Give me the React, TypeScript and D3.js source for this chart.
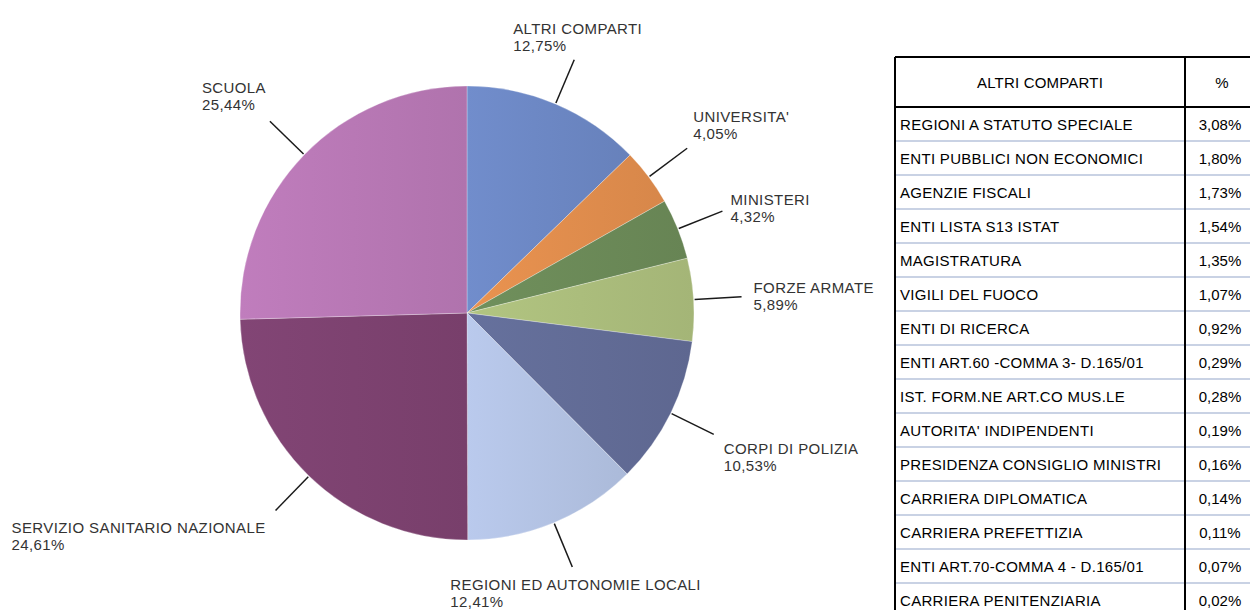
import React, { useEffect, useRef } from 'react';
import * as d3 from 'd3';

const sliceNames = [
  'ALTRI COMPARTI',
  "UNIVERSITA'",
  'MINISTERI',
  'FORZE ARMATE',
  'CORPI DI POLIZIA',
  'REGIONI ED AUTONOMIE LOCALI',
  'SERVIZIO SANITARIO NAZIONALE',
  'SCUOLA',
];
const sliceValues = [12.75, 4.05, 4.32, 5.89, 10.53, 12.41, 24.61, 25.44];
const sliceColors = ['#6c87c3', '#e08d4d', '#6b8a58', '#abbd7c', '#626c96', '#b2c2e3', '#7d4270', '#b878b5'];
// label placement relative to the outer end of each leader line: [dx, dy of first line]
const labelOffsets: [number, number][] = [
  [-61, -26], [6, -26], [8, -6], [12, -4], [10, 20], [-122, 23], [-264, 23], [-68, -28],
];

const tableTitle = 'ALTRI COMPARTI';
const tableNames = [
  'REGIONI A STATUTO SPECIALE',
  'ENTI PUBBLICI NON ECONOMICI',
  'AGENZIE FISCALI',
  'ENTI LISTA S13 ISTAT',
  'MAGISTRATURA',
  'VIGILI DEL FUOCO',
  'ENTI DI RICERCA',
  'ENTI ART.60 -COMMA 3- D.165/01',
  'IST. FORM.NE ART.CO MUS.LE',
  "AUTORITA' INDIPENDENTI",
  'PRESIDENZA CONSIGLIO MINISTRI',
  'CARRIERA DIPLOMATICA',
  'CARRIERA PREFETTIZIA',
  'ENTI ART.70-COMMA 4 - D.165/01',
  'CARRIERA PENITENZIARIA',
];
const tableValues = [3.08, 1.8, 1.73, 1.54, 1.35, 1.07, 0.92, 0.29, 0.28, 0.19, 0.16, 0.14, 0.11, 0.07, 0.02];

const pct = (v: number) => d3.format('.2f')(v).replace('.', ',') + '%';

export default function App() {
  const ref = useRef<SVGSVGElement>(null);

  useEffect(() => {
    if (!ref.current) return;
    document.body.style.margin = '0';
    const svg = d3.select(ref.current);
    svg.selectAll('*').remove();

    const width = 1250;
    const height = 610;
    svg.attr('width', width).attr('height', height);
    svg.append('rect').attr('width', width).attr('height', height).attr('fill', '#fff');

    // ---------- pie ----------
    const cx = 467;
    const cy = 313;
    const r = 227;
    const data = sliceNames.map((name, i) => ({ name, value: sliceValues[i], color: sliceColors[i], off: labelOffsets[i] }));
    const pie = d3.pie<typeof data[0]>().sort(null).value((d) => d.value);
    const arcs = pie(data);
    const arc = d3.arc<d3.PieArcDatum<typeof data[0]>>().innerRadius(0).outerRadius(r);
    const arcIn = d3.arc<d3.PieArcDatum<typeof data[0]>>().innerRadius(r + 1).outerRadius(r + 1);
    const arcOut = d3.arc<d3.PieArcDatum<typeof data[0]>>().innerRadius(275).outerRadius(275);

    const defs = svg.append('defs');
    data.forEach((d, i) => {
      const gr = defs.append('linearGradient').attr('id', `g${i}`).attr('x1', 0).attr('x2', 1).attr('y1', 0).attr('y2', 0);
      gr.append('stop').attr('offset', '0%').attr('stop-color', d3.color(d.color)!.brighter(0.12).formatHex());
      gr.append('stop').attr('offset', '100%').attr('stop-color', d3.color(d.color)!.darker(0.12).formatHex());
    });

    const g = svg.append('g').attr('transform', `translate(${cx},${cy})`);
    g.selectAll('path.slice')
      .data(arcs)
      .join('path')
      .attr('class', 'slice')
      .attr('d', arc)
      .attr('fill', (_, i) => `url(#g${i})`)
      .attr('stroke', '#ffffff')
      .attr('stroke-opacity', 0.35)
      .attr('stroke-width', 0.8);

    // leader lines
    g.selectAll('line.leader')
      .data(arcs)
      .join('line')
      .attr('class', 'leader')
      .attr('x1', (d) => arcIn.centroid(d)[0])
      .attr('y1', (d) => arcIn.centroid(d)[1])
      .attr('x2', (d) => arcOut.centroid(d)[0])
      .attr('y2', (d) => arcOut.centroid(d)[1])
      .attr('stroke', '#1a1a1a')
      .attr('stroke-width', 1.5);

    // labels
    const lab = g.selectAll('text.lab')
      .data(arcs)
      .join('text')
      .attr('class', 'lab')
      .attr('font-family', 'Liberation Sans, Arial, sans-serif')
      .attr('font-size', 15)
      .attr('letter-spacing', 0.4)
      .attr('fill', '#333');
    lab.append('tspan')
      .attr('x', (d) => arcOut.centroid(d)[0] + d.data.off[0])
      .attr('y', (d) => arcOut.centroid(d)[1] + d.data.off[1])
      .text((d) => d.data.name);
    lab.append('tspan')
      .attr('x', (d) => arcOut.centroid(d)[0] + d.data.off[0])
      .attr('y', (d) => arcOut.centroid(d)[1] + d.data.off[1] + 17)
      .text((d) => pct(d.data.value));

    // ---------- table ----------
    const left = 895;
    const divider = 1185;
    const right = 1262;
    const top = 57;
    const headBottom = 107;
    const y = d3.scaleBand().domain(tableNames).range([headBottom, headBottom + 34 * tableNames.length]);
    const t = svg.append('g').attr('font-family', 'Liberation Sans, Arial, sans-serif').attr('font-size', 15).attr('fill', '#000');

    // row separators
    t.selectAll('line.sep')
      .data(tableNames.slice(1))
      .join('line')
      .attr('class', 'sep')
      .attr('x1', left).attr('x2', right)
      .attr('y1', (d) => y(d)!).attr('y2', (d) => y(d)!)
      .attr('stroke', '#c9d2e4')
      .attr('stroke-width', 2);

    const bottom = y(tableNames[tableNames.length - 1])! + y.bandwidth();
    const border = (x1: number, y1: number, x2: number, y2: number) =>
      t.append('line').attr('x1', x1).attr('y1', y1).attr('x2', x2).attr('y2', y2).attr('stroke', '#000').attr('stroke-width', 2);
    border(left, top, right, top);
    border(left, headBottom, right, headBottom);
    border(left, top, left, bottom);
    border(divider, top, divider, bottom);
    border(left, bottom, right, bottom);

    t.append('text').attr('x', (left + divider) / 2).attr('y', (top + headBottom) / 2 + 5.5)
      .attr('text-anchor', 'middle').attr('letter-spacing', 0.2).text(tableTitle);
    t.append('text').attr('x', 1222).attr('y', (top + headBottom) / 2 + 5.5)
      .attr('text-anchor', 'middle').text('%');

    t.selectAll('text.name')
      .data(tableNames)
      .join('text')
      .attr('class', 'name')
      .attr('x', left + 5)
      .attr('y', (d) => y(d)! + y.bandwidth() / 2 + 5.5)
      .attr('letter-spacing', 0.3)
      .text((d) => d);

    t.selectAll('text.val')
      .data(tableValues)
      .join('text')
      .attr('class', 'val')
      .attr('x', 1220)
      .attr('y', (_, i) => y(tableNames[i])! + y.bandwidth() / 2 + 5.5)
      .attr('text-anchor', 'middle')
      .text((d) => pct(d));
  }, []);

  return <svg ref={ref} style={{ display: 'block' }} />;
}
